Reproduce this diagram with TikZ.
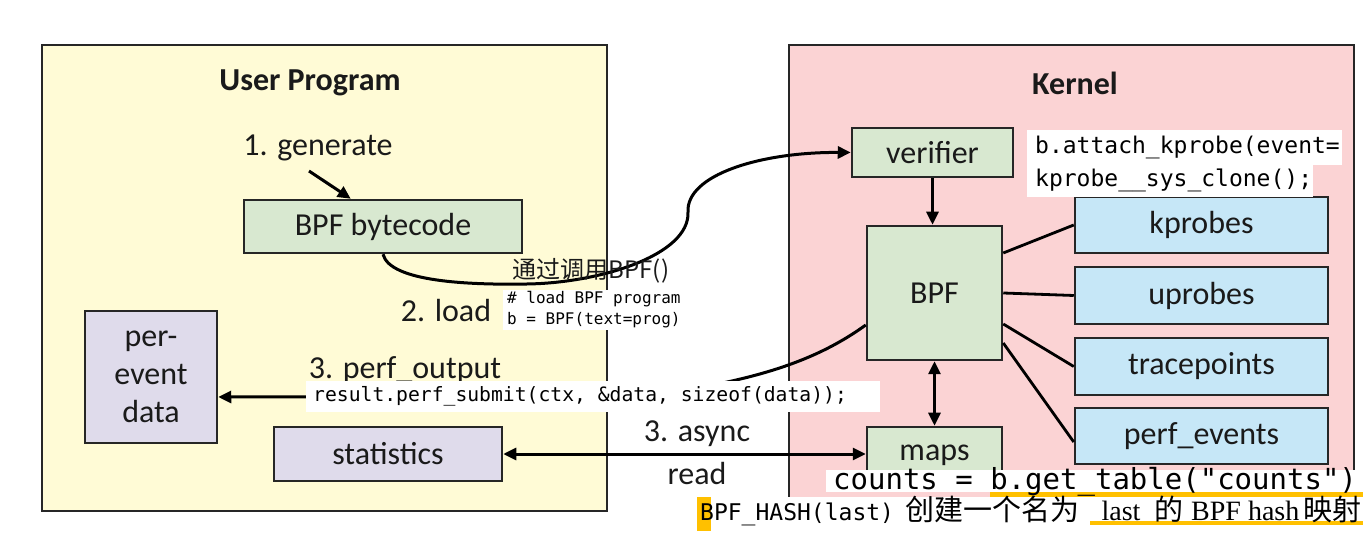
\documentclass[tikz,border=0pt]{standalone}
\usepackage{fontspec}
\setmainfont{Carlito}
\setmonofont{DejaVu Sans Mono}
\newfontfamily\cjk{Noto Sans CJK SC}
\newfontfamily\tnr{Liberation Serif}
\usetikzlibrary{arrows.meta,calc}
\definecolor{ybg}{HTML}{FFFBD6}
\definecolor{pbg}{HTML}{FBD3D4}
\definecolor{grn}{HTML}{D8E8D0}
\definecolor{lav}{HTML}{DFDBEB}
\definecolor{blu}{HTML}{C6E7F7}
\definecolor{edge}{HTML}{262626}
\definecolor{txt}{HTML}{1A1A1A}
\definecolor{hl}{HTML}{FFC000}
\newcommand\lab{\fontsize{32}{38}\selectfont}
\tikzset{
 panel/.style={draw=edge, line width=2pt, anchor=north west, inner sep=0pt},
 box/.style={draw=edge, line width=2.5pt, inner sep=0pt, font=\lab, text=txt},
 arr/.style={line width=3pt, -{Triangle[length=13pt,width=12pt]}},
 darr/.style={line width=3pt, {Triangle[length=13pt,width=12pt]}-{Triangle[length=13pt,width=12pt]}},
 link/.style={line width=2.8pt},
 lbl/.style={font=\lab, text=txt, inner sep=0pt},
 code/.style={inner sep=0pt, anchor=west},
 wbg/.style={fill=white, inner sep=0pt, anchor=north west},
 tline/.style={anchor=base west, inner sep=0pt}
}
\begin{document}
\begin{tikzpicture}[x=1pt,y=-1pt]
\useasboundingbox (0,0) rectangle (1363,534);
% panels
\node[panel, fill=ybg, minimum width=565pt, minimum height=466pt] (user) at (41,44) {};
\node[panel, fill=pbg, minimum width=565pt, minimum height=466pt] (kernel) at (788,44) {};
\node[lbl, font=\lab\bfseries] (usertitle) at (310,83) {User Program};
\node[lbl, font=\lab\bfseries] (kerneltitle) at (1075,83) {Kernel};
% user side
\node[lbl] (gen) at (318,148) {1. generate};
\node[box, fill=grn, minimum width=278pt, minimum height=53pt] (bytecode) at (383,226.5) {BPF bytecode};
\node[box, fill=lav, minimum width=132pt, minimum height=132pt, align=center] (perevent) at (151,377) {per-\\event\\data};
\node[box, fill=lav, minimum width=228pt, minimum height=54pt] (stats) at (388,454) {statistics};
\node[lbl] (load) at (446,311) {2. load};
\node[lbl] (perfout) at (405,370) {3. perf\_output};
\node[lbl] (async) at (697,434) {3. async};
\node[lbl] (read) at (697,474) {read};
% kernel side
\node[box, fill=grn, minimum width=161pt, minimum height=49pt] (verifier) at (932.5,152.5) {verifier};
\node[box, fill=grn, minimum width=135pt, minimum height=134pt] (bpf) at (934.5,293) {BPF};
\node[box, fill=grn, minimum width=135pt, minimum height=56pt] (maps) at (934.5,455) {maps};
\node[box, fill=blu, minimum width=253pt, minimum height=56pt] (kprobes) at (1201.5,225) {kprobes};
\node[box, fill=blu, minimum width=253pt, minimum height=57pt] (uprobes) at (1201.5,295.5) {uprobes};
\node[box, fill=blu, minimum width=253pt, minimum height=57pt] (tracepoints) at (1201.5,366.5) {tracepoints};
\node[box, fill=blu, minimum width=253pt, minimum height=56pt] (perfevents) at (1201.5,436) {perf\_events};
% connectors
\coordinate (g1) at (309,171);
\draw[arr] (g1) -- ($(bytecode.north west)+(108,0)$);
\draw[link] ([yshift=40pt]bpf.east) -- (kprobes.west);
\draw[link] (bpf.east) -- (uprobes.west);
\draw[link] ([yshift=-31pt]bpf.east) -- (tracepoints.west);
\draw[link] ([yshift=-50pt]bpf.east) -- ([yshift=-6pt]perfevents.west);
\draw[arr] (verifier.south) -- (verifier.south |- bpf.north);
\draw[darr] (bpf.south) -- (maps.north);
\draw[darr] (stats.east) -- (stats.east -| maps.west);
\draw[arr] (bytecode.south) .. controls (390,282) and (470,285) .. (527,284)
  .. controls (600,283) and (690,255) .. (688,212)
  .. controls (686,175) and (760,152) .. (verifier.west);
\draw[arr] ([yshift=-32pt]bpf.west) .. controls (820,358) and (760,382) .. (640,396) -- ([yshift=-20pt]perevent.east);
\node[inner sep=0pt, text=txt, font=\cjk\fontsize{24}{28}\selectfont] (callbpf) at (591,271) {通过调用BPF()};
% code overlays
\node[wbg, minimum width=180pt, minimum height=40pt] (loadbg) at (503,290) {};
\node[code, align=left, font=\ttfamily\fontsize{16}{21}\selectfont] (loadcode) at (507,310) {\# load BPF program\\b = BPF(text=prog)};
\node[wbg, minimum width=574pt, minimum height=31pt] (subbg) at (306,381) {};
\node[code, font=\ttfamily\fontsize{19.7}{22}\selectfont] (sub) at (313,396.5) {result.perf\_submit(ctx, \&data, sizeof(data));};
\node[wbg, minimum width=315pt, minimum height=35pt] (att1bg) at (1027,130) {};
\node[wbg, minimum width=286pt, minimum height=32pt] (att2bg) at (1027,165) {};
\node[code, font=\ttfamily\fontsize{23}{26}\selectfont] (att1) at (1035,147) {b.attach\_kprobe(event=};
\node[code, font=\ttfamily\fontsize{23}{26}\selectfont] (att2) at (1035,180) {kprobe\_\_sys\_clone();};
\node[wbg, minimum width=537pt, minimum height=22pt] (cntbg) at (826,470) {};
\fill[hl] (990,492) rectangle (1363,497);
\node[code, font=\ttfamily\fontsize{29}{32}\selectfont] (cnt) at (833,482) {counts = b.get\_table("counts")};
% bottom line
\fill[white] (690,497) rectangle (1363,534);
\fill[hl] (697,497) rectangle (711,531);
\fill[hl] (1090,521) rectangle (1363,525);
\node[tline, font=\ttfamily\fontsize{23}{26}\selectfont] (hash) at (700,520) {BPF\_HASH(last)};
\node[tline, font=\cjk\fontsize{29}{32}\selectfont] (cj1) at (905,520) {创建一个名为};
\node[anchor=base, inner sep=0pt, font=\tnr\fontsize{28}{30}\selectfont] (last) at (1121,520) {last};
\node[tline, font=\cjk\fontsize{29}{32}\selectfont] (de) at (1154,520) {的};
\node[tline, font=\tnr\fontsize{28}{30}\selectfont] (bpfhash) at (1191,520) {BPF hash};
\node[tline, font=\cjk\fontsize{29}{32}\selectfont] (ys) at (1303,520) {映射};
\end{tikzpicture}
\end{document}
